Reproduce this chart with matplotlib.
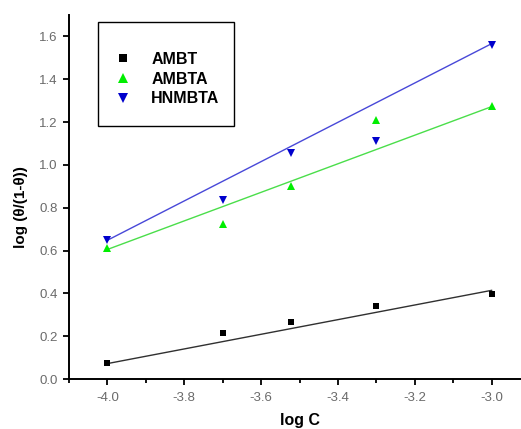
import numpy as np
import matplotlib
matplotlib.use("Agg")
import matplotlib.pyplot as plt
from matplotlib.ticker import MultipleLocator, FormatStrFormatter
from matplotlib.patches import Rectangle

plt.rcParams['font.family'] = ['Liberation Sans', 'DejaVu Sans']

log_c = [-4.0, -3.699, -3.523, -3.301, -3.0]
ambt = [0.075, 0.215, 0.267, 0.340, 0.398]
ambta = [0.610, 0.726, 0.903, 1.208, 1.273]
hnmbta = [0.648, 0.835, 1.056, 1.110, 1.558]

# fitted straight lines as drawn in the figure: (slope, intercept)
fit_ambt = (0.342, 1.440)
fit_ambta = (0.667, 3.273)
fit_hnmbta = (0.918, 4.320)

series = [
    ("AMBT", ambt, fit_ambt, 's', '#000000', '#303030', 4.8),
    ("AMBTA", ambta, fit_ambta, '^', '#00ee00', '#4ade4a', 5.8),
    ("HNMBTA", hnmbta, fit_hnmbta, 'v', '#0000cc', '#4848d8', 5.8),
]

fig = plt.figure(figsize=(5.21, 4.29), dpi=100)
ax = fig.add_axes([69/521, 50/429, 461/521, 364/429])

x = np.array(log_c)
for name, ys, (k, b), m, mc, lc, ms in series:
    ax.plot(x, ys, linestyle='none', marker=m, color=mc, markersize=ms,
            markeredgewidth=0, label=name, zorder=3)
    xx = np.array([x.min(), x.max()])
    ax.plot(xx, k * xx + b, color=lc, linewidth=1.0, zorder=2)

ax.set_xlim(-4.1, -2.9)
ax.set_ylim(0.0, 1.7)
ax.xaxis.set_major_locator(MultipleLocator(0.2))
ax.xaxis.set_minor_locator(MultipleLocator(0.1))
ax.yaxis.set_major_locator(MultipleLocator(0.2))
ax.xaxis.set_major_formatter(FormatStrFormatter('%.1f'))
ax.yaxis.set_major_formatter(FormatStrFormatter('%.1f'))

for s in ['top', 'right']:
    ax.spines[s].set_visible(False)
for s in ['left', 'bottom']:
    ax.spines[s].set_linewidth(1.4)

ax.tick_params(axis='both', which='major', direction='out', length=4.5, width=1.3,
               labelsize=9.5, labelcolor='#6a6a6a', color='#000000')
ax.tick_params(axis='x', which='major', pad=5)
ax.tick_params(axis='y', which='major', pad=3.5)
ax.tick_params(axis='x', which='minor', direction='out', length=3, width=1.3)

ax.set_xlabel('log C', fontsize=11.5, fontweight='bold')
ax.xaxis.set_label_coords(0.5, -0.094)
ax.set_ylabel('log (θ/(1-θ))', fontsize=11, fontweight='bold')
ax.yaxis.set_label_coords(-0.089, 0.4725)

# legend frame
ax.add_patch(Rectangle((0.0629, 0.695), 0.358 - 0.0629, 0.981 - 0.695,
                       transform=ax.transAxes, fill=False, edgecolor='#000000',
                       linewidth=1.0, zorder=4))
leg = ax.legend(loc='upper left', bbox_to_anchor=(0.0965, 0.899), frameon=False,
                prop={'weight': 'bold', 'size': 11.5}, labelspacing=0.3,
                borderpad=0, handletextpad=1.16, handlelength=1.2,
                borderaxespad=0, markerscale=1.2)

fig.savefig('out.png', dpi=100)
